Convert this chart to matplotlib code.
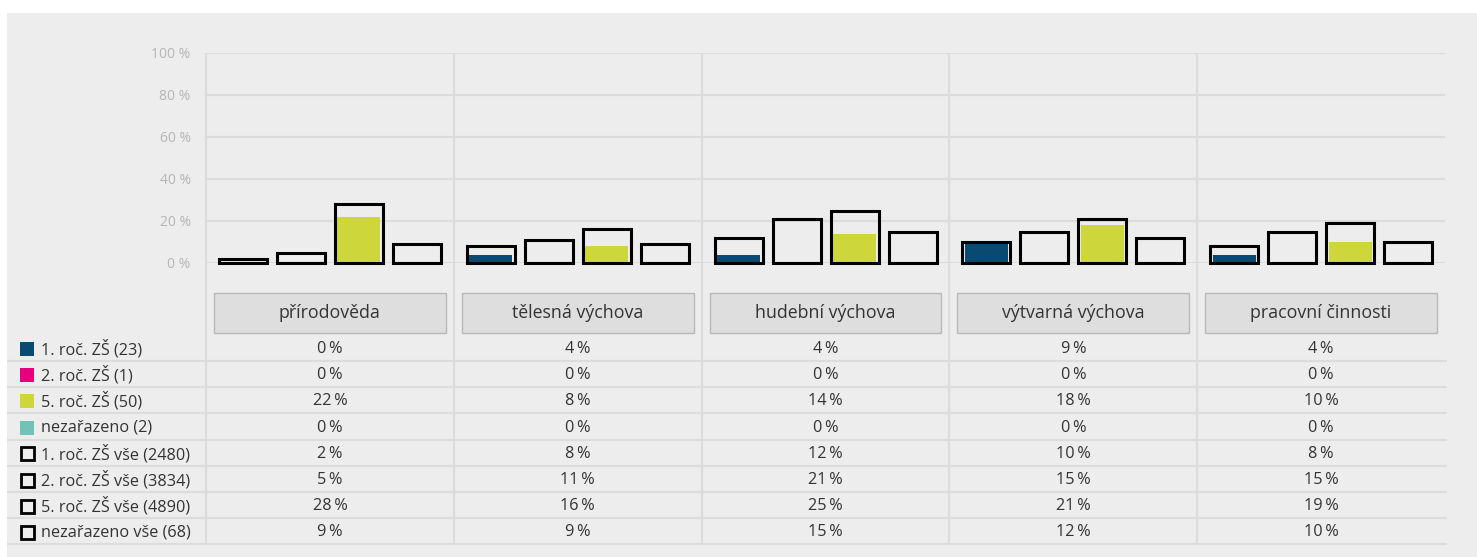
import matplotlib
matplotlib.use("Agg")
import matplotlib.pyplot as plt
from matplotlib.patches import Rectangle
from matplotlib.transforms import blended_transform_factory

plt.rcParams['font.family'] = ['Open Sans', 'DejaVu Sans']

categories = ["přírodověda", "tělesná výchova", "hudební výchova", "výtvarná výchova", "pracovní činnosti"]
group_labels = ["1. roč. ZŠ (23)", "2. roč. ZŠ (1)", "5. roč. ZŠ (50)", "nezařazeno (2)"]
all_labels = ["1. roč. ZŠ vše (2480)", "2. roč. ZŠ vše (3834)", "5. roč. ZŠ vše (4890)", "nezařazeno vše (68)"]
group_colors = ["#0b4a70", "#e6007e", "#cdd73c", "#72c3b5"]

school_values = [
    [0, 4, 4, 9, 4],
    [0, 0, 0, 0, 0],
    [22, 8, 14, 18, 10],
    [0, 0, 0, 0, 0],
]
all_values = [
    [2, 8, 12, 10, 8],
    [5, 11, 21, 15, 15],
    [28, 16, 25, 21, 19],
    [9, 9, 15, 12, 10],
]
yticks = [0, 20, 40, 60, 80, 100]

W, H = 1477, 557
fig = plt.figure(figsize=(W / 100, H / 100), dpi=100)
fig.patch.set_facecolor("white")

# overlay axes in pixel coordinates
ax_o = fig.add_axes([0, 0, 1, 1], zorder=0)
ax_o.set_xlim(0, W)
ax_o.set_ylim(H, 0)
ax_o.axis("off")
ax_o.add_patch(Rectangle((7, 13), W - 7, H - 13, facecolor="#ededed", edgecolor="none"))

# bar axes
left_px, right_px, top_px, bot_px = 206, 1445, 53, 263
ax = fig.add_axes([left_px / W, 1 - bot_px / H, (right_px - left_px) / W, (bot_px - top_px) / H], zorder=1)
ax.patch.set_alpha(0)
ax.set_xlim(-0.5, len(categories) - 0.5)
ax.set_ylim(0, 100)
for s in ax.spines.values():
    s.set_visible(False)
ax.set_xticks([])
ax.set_yticks(yticks)
ax.set_yticklabels([f"{v} %" for v in yticks])
ax.tick_params(axis="y", length=0, pad=11, labelsize=10, labelcolor="#b5b5b5")
for v in yticks:
    ax.axhline(v, color="#dcdcdc", lw=1.6, zorder=0.5)

px_per_unit_y = (bot_px - top_px) / 100.0
table_bottom_px = 544
ymin_ext = -(table_bottom_px - bot_px) / px_per_unit_y
for i in range(len(categories)):
    ax.vlines(i - 0.5, ymin_ext, 100, color="#dcdcdc", lw=1.6, zorder=0.5, clip_on=False)

cat_px = (right_px - left_px) / len(categories)
slot = 58 / cat_px
fill_w = 43 / cat_px
out_w = 48 / cat_px
xs = list(range(len(categories)))
for g in range(4):
    off = (g - 1.5) * slot
    ax.bar([x + off for x in xs], school_values[g], width=fill_w, color=group_colors[g],
           edgecolor="none", zorder=2)
    ax.bar([x + off for x in xs], all_values[g], width=out_w, facecolor="none",
           edgecolor="black", linewidth=2.2, zorder=3, clip_on=False)

# table
tr = blended_transform_factory(ax.transData, ax_o.transData)
text_color = "#333333"
for i, c in enumerate(categories):
    ax_o.add_patch(Rectangle((i - 0.468, 293), 0.936, 40, transform=tr,
                             facecolor="#dedede", edgecolor="#b9b9b9", lw=1.0))
    ax_o.text(i, 313, c, transform=tr, ha="center", va="center",
              fontsize=12.8, color=text_color)

row_h = 26.2
first_line = 360.9
rows_labels = group_labels + all_labels
rows_values = school_values + all_values
for r in range(8):
    yl = first_line + r * row_h
    yc = yl - 11.8
    ax_o.plot([7, 1447], [yl, yl], color="#dcdcdc", lw=1.6, solid_capstyle="butt")
    if r < 4:
        ax_o.add_patch(Rectangle((20, yc - 7), 14, 14, facecolor=group_colors[r], edgecolor="none"))
    else:
        ax_o.add_patch(Rectangle((20.5, yc - 6.5), 13, 13, facecolor="none", edgecolor="black", lw=2.0))
    ax_o.text(41, yc, rows_labels[r], ha="left", va="center", fontsize=11.7, color=text_color)
    for i in range(len(categories)):
        ax_o.text(i, yc, f"{rows_values[r][i]}\u2009%", transform=tr, ha="center", va="center",
                  fontsize=11.7, color=text_color)

fig.savefig("out.png", dpi=100)
